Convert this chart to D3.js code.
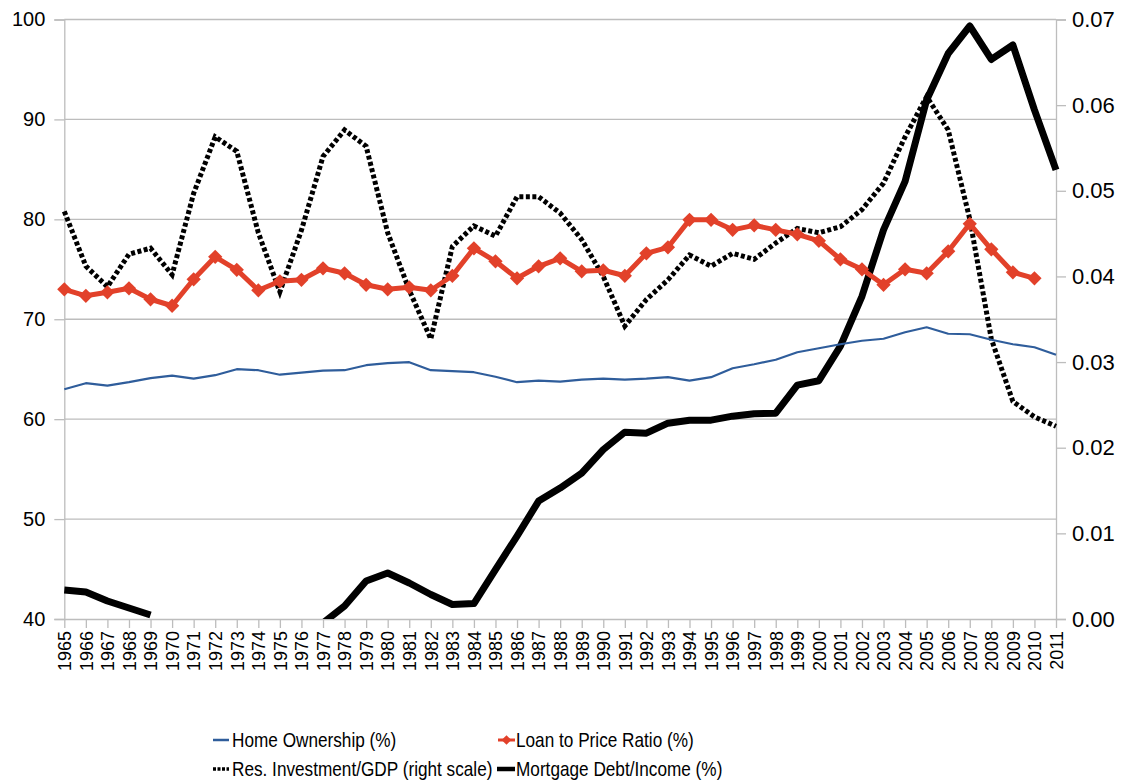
<!DOCTYPE html>
<html>
<head>
<meta charset="utf-8">
<script src="https://cdn.jsdelivr.net/npm/d3@7"></script>
<style>
  html, body { margin: 0; padding: 0; background: #fff; }
  svg { display: block; font-family: "Liberation Sans", Arial, sans-serif; }
</style>
</head>
<body>
<svg id="chart" width="1127" height="783"></svg>
<script>
const years = [1965,1966,1967,1968,1969,1970,1971,1972,1973,1974,1975,1976,1977,1978,1979,1980,1981,1982,1983,1984,1985,1986,1987,1988,1989,1990,1991,1992,1993,1994,1995,1996,1997,1998,1999,2000,2001,2002,2003,2004,2005,2006,2007,2008,2009,2010,2011];

const homeOwnership = [63.0,63.6,63.35,63.7,64.1,64.35,64.05,64.4,65.0,64.9,
  64.45,64.65,64.85,64.9,65.4,65.6,65.7,64.9,64.8,64.7,
  64.25,63.7,63.85,63.75,63.95,64.05,63.95,64.05,64.2,63.85,
  64.2,65.1,65.5,65.95,66.7,67.1,67.5,67.85,68.05,68.7,
  69.2,68.55,68.5,67.95,67.5,67.2,66.45];

const loanToPrice = [73.0,72.35,72.7,73.1,72.0,71.35,74.0,76.25,74.95,72.9,
  73.8,73.95,75.1,74.6,73.45,73.0,73.2,72.9,74.35,77.1,
  75.8,74.1,75.3,76.1,74.8,74.9,74.35,76.6,77.2,79.95,
  79.95,78.95,79.4,78.95,78.5,77.85,76.0,75.0,73.45,75.0,
  74.6,76.8,79.55,77.0,74.7,74.1,null];

const resInvGDP = [0.0476,0.0412,0.0388,0.0426,0.0433,0.0402,0.0497,0.0563,0.0546,0.0451,
  0.0382,0.0454,0.0540,0.0571,0.0552,0.0451,0.0384,0.0327,0.0435,0.0459,
  0.0447,0.0493,0.0493,0.0474,0.0443,0.0400,0.0342,0.0373,0.0396,0.0425,
  0.0412,0.0427,0.0420,0.0439,0.0456,0.0451,0.0458,0.0478,0.0509,0.0563,
  0.0610,0.0571,0.0467,0.0327,0.0254,0.0236,0.0225];

const mortgageDebt = [42.9,42.7,41.8,41.1,40.4,null,null,null,null,null,
  null,null,39.6,41.3,43.8,44.6,43.6,42.45,41.45,41.55,
  44.95,48.3,51.8,53.1,54.6,56.95,58.7,58.6,59.6,59.9,
  59.9,60.3,60.55,60.6,63.4,63.85,67.3,72.3,78.95,83.8,
  91.95,96.6,99.35,96.0,97.45,90.95,84.95];

const leftTicks = [40,50,60,70,80,90,100];
const rightTicks = [0,0.01,0.02,0.03,0.04,0.05,0.06,0.07];

const legendLabels = ["Home Ownership (%)","Loan to Price Ratio (%)","Res. Investment/GDP (right scale)","Mortgage Debt/Income (%)"];

// ---- layout ----
const L = 64.3, R = 1056, T = 19.5, B = 619;
const svg = d3.select("#chart");

const x = d3.scalePoint().domain(years).range([L, R]);
const yL = d3.scaleLinear().domain([40, 100]).range([B, T]);
const yR = d3.scaleLinear().domain([0, 0.07]).range([B, T]);

const gridColor = "#bdbdbd";

// gridlines
svg.append("g").selectAll("line").data(leftTicks.slice(1)).join("line")
  .attr("x1", L).attr("x2", R)
  .attr("y1", d => yL(d)).attr("y2", d => yL(d))
  .attr("stroke", gridColor).attr("stroke-width", 1.3);

// left axis
const axL = svg.append("g").attr("transform", `translate(${L},0)`)
  .call(d3.axisLeft(yL).tickValues(leftTicks).tickSize(10).tickPadding(9).tickFormat(d3.format("d")));
axL.select(".domain").attr("stroke", gridColor).attr("stroke-width", 1.3);
axL.selectAll(".tick line").attr("stroke", gridColor).attr("stroke-width", 1.3);
axL.selectAll("text").attr("font-size", 20).attr("fill", "#000").attr("font-family", "Liberation Sans, Arial, sans-serif");

// right axis
const axR = svg.append("g").attr("transform", `translate(${R},0)`)
  .call(d3.axisRight(yR).tickValues(rightTicks).tickSize(10).tickPadding(6).tickFormat(d3.format(".2f")));
axR.select(".domain").attr("stroke", gridColor).attr("stroke-width", 1.3);
axR.selectAll(".tick line").attr("stroke", gridColor).attr("stroke-width", 1.3);
axR.selectAll("text").attr("font-size", 22).attr("fill", "#000").attr("font-family", "Liberation Sans, Arial, sans-serif");

// bottom axis
const axB = svg.append("g").attr("transform", `translate(0,${B})`)
  .call(d3.axisBottom(x).tickSize(9).tickPadding(4).tickSizeOuter(0));
axB.select(".domain").attr("stroke", gridColor).attr("stroke-width", 1.3);
axB.selectAll(".tick line").attr("stroke", gridColor).attr("stroke-width", 1.3);
axB.selectAll("text")
  .attr("font-size", 18).attr("fill", "#000").attr("font-family", "Liberation Sans, Arial, sans-serif")
  .attr("transform", "rotate(-90)")
  .attr("text-anchor", "end")
  .attr("dy", "0.35em")
  .attr("x", -12).attr("y", 0);

// clip
svg.append("clipPath").attr("id", "plotclip")
  .append("rect").attr("x", L - 10).attr("y", T - 10).attr("width", R - L + 20).attr("height", B - T + 10);

const plot = svg.append("g").attr("clip-path", "url(#plotclip)");

const mkLine = (yScale) => d3.line()
  .defined(d => d.v != null)
  .x(d => x(d.year)).y(d => yScale(d.v));

const zip = arr => years.map((year, i) => ({year, v: arr[i]}));

// Mortgage debt (left)
plot.append("path").datum(zip(mortgageDebt))
  .attr("d", mkLine(yL))
  .attr("fill", "none").attr("stroke", "#000").attr("stroke-width", 7)
  .attr("stroke-linejoin", "round");

// Res investment (right), dotted
plot.append("path").datum(zip(resInvGDP))
  .attr("d", mkLine(yR))
  .attr("fill", "none").attr("stroke", "#000").attr("stroke-width", 5)
  .attr("stroke-dasharray", "4,2.5");

// Home ownership
plot.append("path").datum(zip(homeOwnership))
  .attr("d", mkLine(yL))
  .attr("fill", "none").attr("stroke", "#2f5d9b").attr("stroke-width", 2.2)
  .attr("stroke-linejoin", "round");

// Loan to price
const red = "#e2412a";
const lpData = zip(loanToPrice);
plot.append("path").datum(lpData)
  .attr("d", mkLine(yL))
  .attr("fill", "none").attr("stroke", red).attr("stroke-width", 5)
  .attr("stroke-linejoin", "round");
const diamond = d3.symbol().type(d3.symbolDiamond2).size(130);
plot.append("g").selectAll("path").data(lpData.filter(d => d.v != null)).join("path")
  .attr("d", diamond)
  .attr("transform", d => `translate(${x(d.year)},${yL(d.v)})`)
  .attr("fill", red);

// legend
const leg = svg.append("g").attr("font-family", "Liberation Sans, Arial, sans-serif");
const items = [
  {col: 213, row: 740, label: legendLabels[0], kind: "blue"},
  {col: 497, row: 740, label: legendLabels[1], kind: "red"},
  {col: 213, row: 769, label: legendLabels[2], kind: "dot"},
  {col: 497, row: 769, label: legendLabels[3], kind: "black"}
];
items.forEach(it => {
  const g = leg.append("g");
  if (it.kind === "blue") {
    g.append("line").attr("x1", it.col).attr("x2", it.col + 16).attr("y1", it.row).attr("y2", it.row)
      .attr("stroke", "#2f5d9b").attr("stroke-width", 2.5);
  } else if (it.kind === "red") {
    g.append("line").attr("x1", it.col + 1).attr("x2", it.col + 18).attr("y1", it.row).attr("y2", it.row)
      .attr("stroke", red).attr("stroke-width", 3);
    g.append("path").attr("d", d3.symbol().type(d3.symbolDiamond2).size(60))
      .attr("transform", `translate(${it.col + 9.5},${it.row})`).attr("fill", red);
  } else if (it.kind === "dot") {
    g.append("line").attr("x1", it.col).attr("x2", it.col + 16).attr("y1", it.row).attr("y2", it.row)
      .attr("stroke", "#000").attr("stroke-width", 3.5).attr("stroke-dasharray", "3,1.5");
  } else {
    g.append("line").attr("x1", it.col).attr("x2", it.col + 18).attr("y1", it.row).attr("y2", it.row)
      .attr("stroke", "#000").attr("stroke-width", 4.5);
  }
  g.append("text")
    .attr("transform", `translate(${it.col + 19},${it.row}) scale(0.86,1)`)
    .attr("dy", "0.35em")
    .attr("font-size", 20).attr("fill", "#000")
    .text(it.label);
});
</script>
</body>
</html>
